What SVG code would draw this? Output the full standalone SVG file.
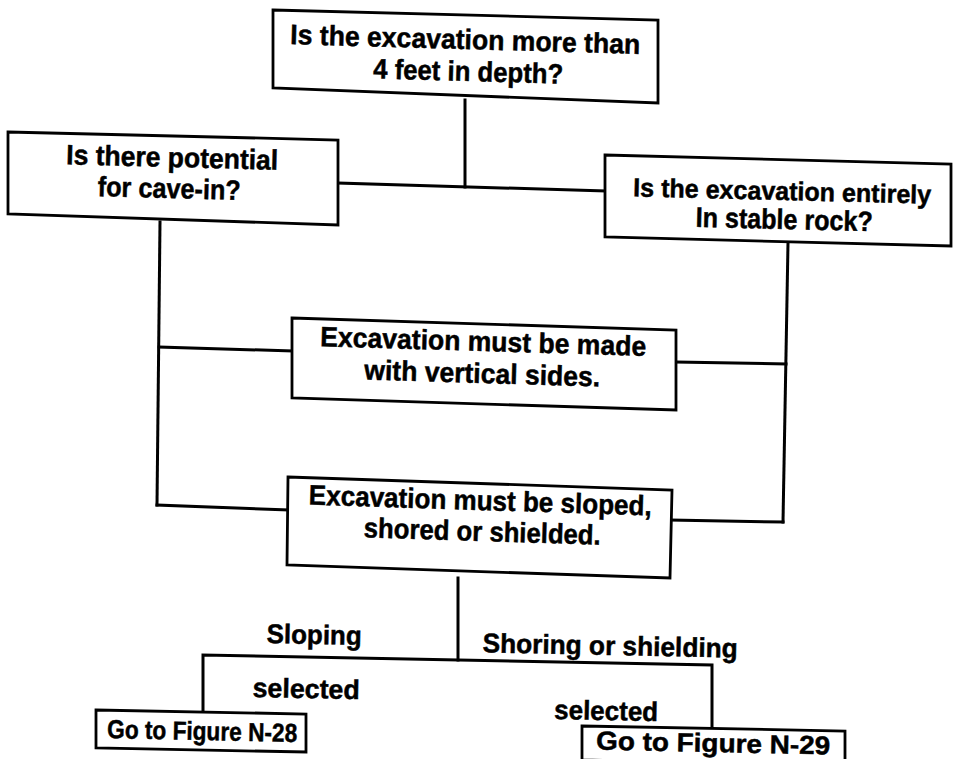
<svg xmlns="http://www.w3.org/2000/svg" width="955" height="759" viewBox="0 0 955 759">
  <style>
    .box { fill: #ffffff; stroke: #000000; stroke-width: 2.8; stroke-linejoin: miter; }
    .wire { fill: none; stroke: #000000; stroke-width: 3; stroke-linecap: square; }
    .t, .lbl, .go { font-family: "Liberation Sans", Arial, Helvetica, sans-serif; font-weight: bold; fill: #000000; stroke: #000000; stroke-width: 0.5; text-anchor: middle; }
    .t { font-size: 28px; }
    .lbl { font-size: 27px; }
    .go { font-size: 26px; }
  </style>
  <rect width="955" height="759" fill="#ffffff"/>

  <!-- connectors -->
  <g id="connectors">
    <!-- depth question down to the two follow-up questions -->
    <polyline class="wire" points="465,100 465,187"/>
    <polyline class="wire" points="338,183 605,191"/>
    <!-- cave-in branch on the left -->
    <polyline class="wire" points="160,222 157,505"/>
    <polyline class="wire" points="159,347 292,351"/>
    <polyline class="wire" points="157,505 288,510"/>
    <!-- stable-rock branch on the right -->
    <polyline class="wire" points="788,243 783,522"/>
    <polyline class="wire" points="676,362 786,364"/>
    <polyline class="wire" points="670,520 783,522"/>
    <!-- protective system choice -->
    <polyline class="wire" points="458,578 458,660"/>
    <polyline class="wire" points="203,711 203,655 712,665 712,727"/>
  </g>

  <g id="node-depth">
    <polygon class="box" points="273,10 658,20 658,103 273,88"/>
    <text class="t" x="465" y="49" textLength="350" lengthAdjust="spacingAndGlyphs" transform="rotate(1.6 465 49)">Is the excavation more than</text>
    <text class="t" x="468" y="81" textLength="190" lengthAdjust="spacingAndGlyphs" transform="rotate(1.6 468 81)">4 feet in depth?</text>
  </g>

  <g id="node-cavein">
    <polygon class="box" points="8,132 338,140 338,225 8,214"/>
    <text class="t" x="172" y="167" textLength="212" lengthAdjust="spacingAndGlyphs" transform="rotate(1.5 172 167)">Is there potential</text>
    <text class="t" x="169" y="198" textLength="143" lengthAdjust="spacingAndGlyphs" transform="rotate(1.5 169 198)">for cave-in?</text>
  </g>

  <g id="node-rock">
    <polygon class="box" points="605,155 951,164 951,246 605,237"/>
    <text class="t" x="782" y="200" style="font-size:26px" textLength="298" lengthAdjust="spacingAndGlyphs" transform="rotate(1.4 782 200)">Is the excavation entirely</text>
    <text class="t" x="784" y="229" textLength="177" lengthAdjust="spacingAndGlyphs" transform="rotate(1.4 784 229)">In stable rock?</text>
  </g>

  <g id="node-vertical">
    <polygon class="box" points="292,318 676,330 676,410 292,398"/>
    <text class="t" x="483" y="351" textLength="326" lengthAdjust="spacingAndGlyphs" transform="rotate(1.7 483 351)">Excavation must be made</text>
    <text class="t" x="482" y="383" textLength="236" lengthAdjust="spacingAndGlyphs" transform="rotate(1.7 482 383)">with vertical sides.</text>
  </g>

  <g id="node-protect">
    <polygon class="box" points="288,477 672,490 670,578 287,565"/>
    <text class="t" x="480" y="510" textLength="343" lengthAdjust="spacingAndGlyphs" transform="rotate(1.8 480 510)">Excavation must be sloped,</text>
    <text class="t" x="482" y="541" textLength="237" lengthAdjust="spacingAndGlyphs" transform="rotate(1.8 482 541)">shored or shielded.</text>
  </g>

  <g id="labels">
    <text class="lbl" x="314" y="644" textLength="95" lengthAdjust="spacingAndGlyphs" transform="rotate(1.2 314 644)">Sloping</text>
    <text class="lbl" x="306" y="698" textLength="107" lengthAdjust="spacingAndGlyphs" transform="rotate(1.2 306 698)">selected</text>
    <text class="lbl" x="610" y="655" textLength="255" lengthAdjust="spacingAndGlyphs" transform="rotate(1.2 610 655)">Shoring or shielding</text>
    <text class="lbl" x="606" y="720" textLength="104" lengthAdjust="spacingAndGlyphs" transform="rotate(1.2 606 720)">selected</text>
  </g>

  <g id="node-n28">
    <polygon class="box" points="96,710 306,714 306,752 96,748"/>
    <text class="go" x="202" y="740" textLength="190" lengthAdjust="spacingAndGlyphs" transform="rotate(1.2 202 740)">Go to Figure N-28</text>
  </g>

  <g id="node-n29">
    <polygon class="box" points="582,726 845,731 845,765 582,760"/>
    <text class="go" x="713" y="752" textLength="234" lengthAdjust="spacingAndGlyphs" transform="rotate(1.2 713 752)">Go to Figure N-29</text>
  </g>
</svg>
